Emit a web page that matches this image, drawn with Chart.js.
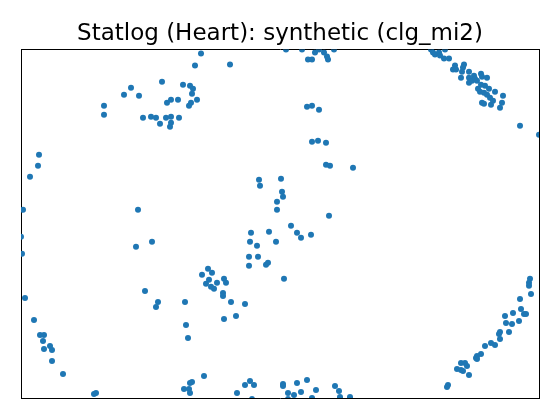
<!DOCTYPE html>
<html><head><meta charset="utf-8">
<script src="https://cdn.jsdelivr.net/npm/chart.js@4/dist/chart.umd.min.js"></script>
<style>html,body{margin:0;padding:0;background:#fff}#wrap{width:560px;height:420px}</style>
</head><body><div id="wrap"><canvas id="c" width="560" height="420"></canvas></div>
<script>
const chartTitle = "Statlog (Heart): synthetic (clg_mi2)";
const xs = [18,17,9,83,83,103,110,118,122,130,135,139,141,145,150,150,149,158,146,150,157,162,169,172,171,176,170,168,174,180,209,
265,281,294,298,303,306,307,313,287,291,286,291,298,291,297,305,305,309,332,
410,412,414,418,419,424,423,428,434,432,435,443,442,441,448,440,453,460,461,466,448,448,451,454,456,460,464,468,474,457,459,463,466,469,482,481,479,461,463,470,472,499,518,
2,0,1,117,115,131,
238,239,260,261,262,256,256,230,229,236,248,255,228,237,228,245,247,187,181,191,188,203,196,205,185,308,270,276,280,290,263,190,193,202,202,137,135,164,210,224,203,215,165,167,124,
4,13,19,23,22,29,23,31,31,42,73,75,
183,171,169,163,168,169,216,224,229,233,231,262,262,267,273,276,280,286,295,291,267,314,318,319,329,
509,508,508,510,499,500,503,505,492,484,485,491,498,488,479,478,479,474,470,464,460,456,455,456,440,444,446,436,440,442,448,427,426];
const ys = [243,232,221,292,283,303,310,302,280,281,280,274,316,280,281,275,271,280,295,298,298,313,312,309,304,298,295,292,332,344,333,
348,348,345,348,345,341,338,348,338,338,291,292,288,256,257,255,233,232,230,
348,345,343,345,342,348,339,339,332,328,328,333,330,326,326,320,322,324,321,320,320,315,317,319,317,313,312,309,306,309,306,305,303,300,302,295,290,295,294,293,297,272,263,
188,161,144,188,151,156,
218,212,219,206,201,196,188,165,156,152,166,156,141,141,132,133,135,129,123,125,118,119,115,115,114,182,172,165,160,163,119,111,109,105,102,96,91,96,96,94,79,82,73,60,107,
100,78,63,63,57,52,49,48,37,24,4,5,
22,16,15,9,9,5,5,13,17,13,-1,14,12,5,3,15,6,18,8,0,-1,12,7,1,1,
119,115,112,104,99,89,84,84,85,82,75,74,77,66,66,64,59,53,55,52,44,42,40,39,35,35,32,29,28,27,23,13,11];
const xRange = [0, 518];
const yRange = [0, 348];

const points = xs.map((x, i) => ({x: x, y: ys[i]}));

const hiddenAxis = (pos) => ({
  type: 'linear', position: pos, display: true,
  ticks: {display: false}, grid: {display: false, drawTicks: false},
  border: {display: true, color: '#000', width: 1}
});

new Chart(document.getElementById('c'), {
  type: 'scatter',
  data: {datasets: [{
    data: points,
    backgroundColor: '#1f77b4',
    borderWidth: 0,
    pointRadius: 3,
    pointHoverRadius: 3,
    clip: 0
  }]},
  options: {
    responsive: false,
    animation: false,
    devicePixelRatio: 1,
    layout: {padding: {top: 20, left: 21, right: 21, bottom: 22}},
    plugins: {
      legend: {display: false},
      tooltip: {enabled: false},
      title: {display: true, text: chartTitle, color: '#000',
        font: {family: 'DejaVu Sans', size: 23, weight: 'normal'},
        padding: {top: 0, bottom: 2}}
    },
    scales: {
      x: Object.assign(hiddenAxis('bottom'), {min: xRange[0], max: xRange[1]}),
      y: Object.assign(hiddenAxis('left'), {min: yRange[0], max: yRange[1]}),
      x2: hiddenAxis('top'),
      y2: hiddenAxis('right')
    }
  }
});
</script></body></html>
